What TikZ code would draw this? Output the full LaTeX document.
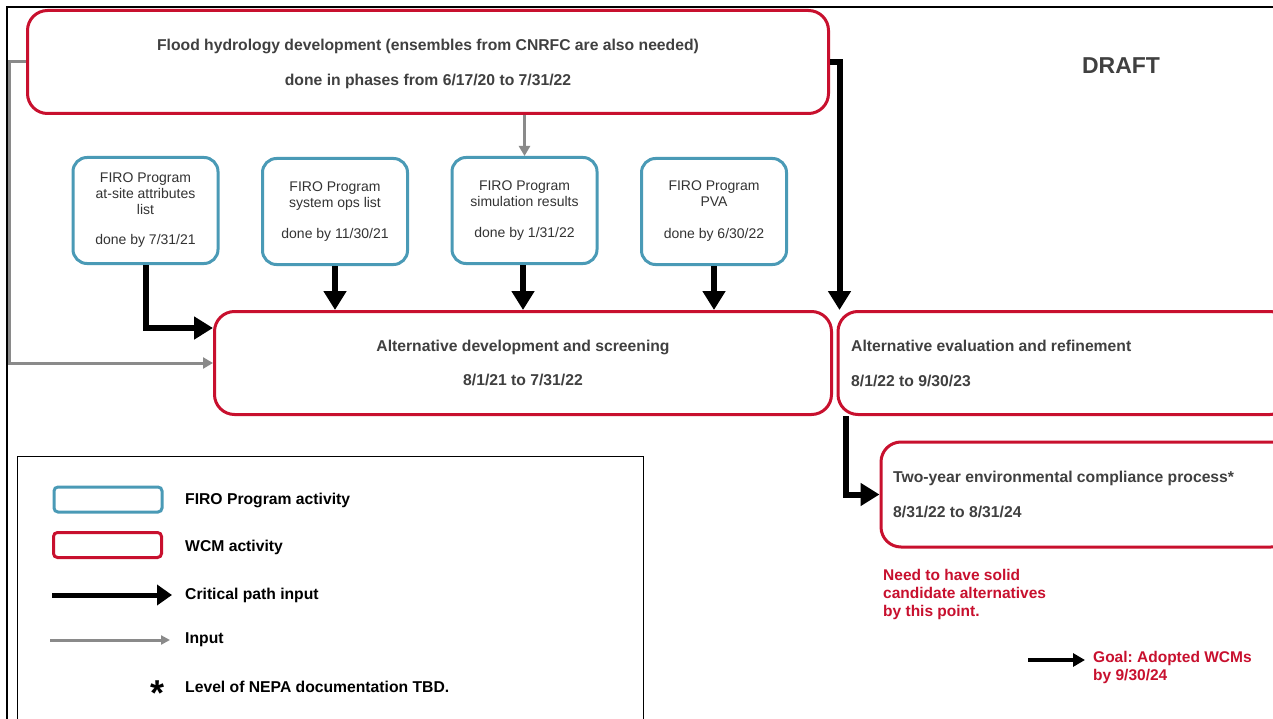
\documentclass[tikz,border=0pt]{standalone}
\usepackage{fontspec}
\setmainfont{Liberation Sans}
\usetikzlibrary{arrows.meta,calc}
\definecolor{wcmred}{HTML}{C8102E}
\definecolor{firoblue}{HTML}{4A9AB6}
\definecolor{txtgray}{HTML}{404040}
\definecolor{firogray}{HTML}{333333}
\definecolor{inpgray}{HTML}{8A8A8A}
\frenchspacing
\begin{document}
\begin{tikzpicture}[x=1pt,y=-1pt,
  wcm/.style={draw=wcmred, line width=3pt, rounded corners=20pt, fill=white, inner sep=0pt},
  firo/.style={draw=firoblue, line width=3pt, rounded corners=14pt, fill=white, minimum width=145pt, minimum height=106pt, inner sep=0pt, align=center, text=firogray, font=\fontsize{14}{16}\selectfont},
  crit/.style={line width=6pt, -{Triangle[width=22pt,length=19pt]}},
  inp/.style={draw=inpgray, line width=3pt, -{Triangle[width=11pt,length=10pt]}},
  maintext/.style={text=txtgray, font=\bfseries\fontsize{15.7}{18}\selectfont, inner sep=0pt},
  legtext/.style={text=black, anchor=west, font=\bfseries\fontsize{15.7}{18}\selectfont, inner sep=0pt},
  redtext/.style={text=wcmred, anchor=west, align=left, font=\bfseries\fontsize{15.5}{18}\selectfont, inner sep=0pt},
  legbox/.style={line width=3pt, rounded corners=4pt, minimum width=108pt, minimum height=25pt, inner sep=0pt}
]
\useasboundingbox (0,0) rectangle (1273,719);
\fill[white] (0,0) rectangle (1273,719);
% outer frame
\draw[line width=1.5pt] (7,719) -- (7,7) -- (1273,7);

% WCM boxes
\node[wcm, minimum width=801pt, minimum height=103pt] (flood) at (428,62) {};
\node[maintext, align=center] (floodtxt) at (428,63.5)
  {Flood hydrology development (ensembles from CNRFC are also needed)\\[17pt]done in phases from 6/17/20 to 7/31/22};
\node[wcm, maintext, align=center, minimum width=617pt, minimum height=103pt] (alt) at (523,363)
  {Alternative development and screening\\[16pt]8/1/21 to 7/31/22};
\node[wcm, minimum width=452pt, minimum height=103pt] (aeval) at (1064,363) {};
\node[maintext, anchor=west, align=left] (aevaltxt) at (851,363.5)
  {Alternative evaluation and refinement\\[17pt]8/1/22 to 9/30/23};
\node[wcm, minimum width=410pt, minimum height=105pt] (two) at (1086,494.5) {};
\node[maintext, anchor=west, align=left] (twotxt) at (893,494.5)
  {Two-year environmental compliance process*\\[17pt]8/31/22 to 8/31/24};

% FIRO boxes
\node[firo] (b1) at (145.5,210.5) {FIRO Program\\at-site attributes\\list\\[14pt]done by 7/31/21};
\node[firo] (b2) at (335,211.5) {FIRO Program\\system ops list\\[15pt]done by 11/30/21};
\node[firo] (b3) at (524.5,210.5) {FIRO Program\\simulation results\\[15pt]done by 1/31/22};
\node[firo] (b4) at (714,211.5) {FIRO Program\\PVA\\[16pt]done by 6/30/22};

% connectors
\draw[inp] (b3.north |- flood.south) -- (b3.north);
\draw[inp] (flood.west) -- ++(-17,0) |- (alt.west);
\draw[crit] (b1.south) |- ([yshift=35pt]alt.west);
\draw[crit] (b2.south) -- (b2.south |- alt.north);
\draw[crit] ([xshift=-1.5pt]b3.south) -- ([xshift=-1.5pt]b3.south |- alt.north);
\draw[crit] (b4.south) -- (b4.south |- alt.north);
\draw[crit] (flood.east) -| ([xshift=3pt]aeval.north west);
\draw[crit] ([xshift=9pt]aeval.south west) |- (two.west);

% DRAFT
\node[text=txtgray, font=\bfseries\fontsize{23}{26}\selectfont, inner sep=0pt] (draft) at (1121,66) {DRAFT};

% red notes
\node[redtext] (need) at (883,594) {Need to have solid\\candidate alternatives\\by this point.};
\node[redtext] (goal) at (1093,667) {Goal: Adopted WCMs\\by 9/30/24};
\coordinate (goalstart) at (1028,660);
\draw[line width=4pt, -{Triangle[width=13pt,length=12pt]}] (goalstart) -- ([xshift=-8pt]goal.west |- goalstart);

% legend
\draw[line width=1pt] (17,725) -- (17,456) -- (643,456) -- (643,725);
\node[legbox, draw=firoblue] (lfiro) at (108,499.5) {};
\node[legtext] (lfirotxt) at (185,500) {FIRO Program activity};
\node[legbox, draw=wcmred] (lwcm) at (107.5,545) {};
\node[legtext] (lwcmtxt) at (185,547) {WCM activity};
\coordinate (lcritA) at (52,595);
\node[legtext] (lcrittxt) at (185,595) {Critical path input};
\draw[line width=5pt, -{Triangle[width=20pt,length=15pt]}] (lcritA) -- ([xshift=-13pt]lcrittxt.west |- lcritA);
\coordinate (linpA) at (50,640);
\node[legtext] (linptxt) at (185,640) {Input};
\draw[line width=3pt, draw=inpgray, -{Triangle[width=9pt,length=9pt]}] (linpA) -- ([xshift=-15pt]linptxt.west |- linpA);
\node[inner sep=0pt, anchor=base, font=\bfseries\fontsize{36}{36}\selectfont] (astx) at (158,705) {*};
\node[legtext] (nepa) at (185,687) {Level of NEPA documentation TBD.};
\end{tikzpicture}
\end{document}
